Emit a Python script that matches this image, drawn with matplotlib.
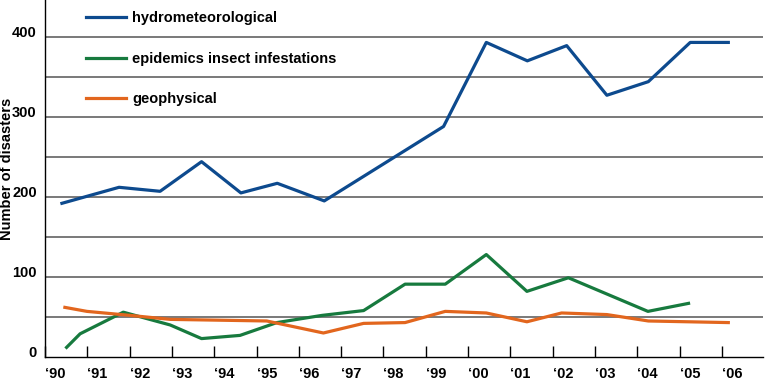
import matplotlib.pyplot as plt
from matplotlib.lines import Line2D

plt.rcParams['font.family'] = ['Liberation Sans', 'DejaVu Sans']

# data (x in fractional years, since points sit between year ticks)
hydro_x = [1990.40, 1991.75, 1992.72, 1993.70, 1994.63, 1995.49, 1996.60, 1999.42,
           2000.43, 2001.40, 2002.33, 2003.28, 2004.26, 2005.25, 2006.15]
hydro_y = [192, 212, 207, 244, 205, 217, 195, 288, 393, 370, 389, 327, 344, 393, 393]

epi_x = [1990.51, 1990.83, 1991.85, 1992.96, 1993.70, 1994.61, 1995.48, 1996.55, 1997.53,
         1998.51, 1999.46, 2000.43, 2001.39, 2002.37, 2004.25, 2005.21]
epi_y = [12, 29, 56, 40, 23, 27, 43, 52, 58, 91, 91, 128, 82, 99, 57, 67]

geo_x = [1990.47, 1990.99, 1992.01, 1992.96, 1995.24, 1996.58, 1997.53, 1998.51, 1999.46,
         2000.43, 2001.39, 2002.21, 2003.28, 2004.26, 2006.15]
geo_y = [62, 57, 52, 47, 45, 30, 42, 43, 57, 55, 44, 55, 53, 45, 43]

years = list(range(1990, 2007))
year_labels = ["\u2018" + str(y)[2:] for y in years]

names = ["hydrometeorological", "epidemics insect infestations", "geophysical"]
colors = ["#0d4a8e", "#177a3e", "#e2661e"]

fig = plt.figure(figsize=(7.68, 3.9), dpi=100)
ax = fig.add_axes([45 / 768, 33 / 390, 718 / 768, 357 / 390])

for yv in range(50, 450, 50):
    ax.axhline(yv, color="#555555", lw=1.1, zorder=1)

ax.plot(hydro_x, hydro_y, color=colors[0], lw=2.3, zorder=3)
ax.plot(epi_x, epi_y, color=colors[1], lw=2.3, zorder=3)
ax.plot(geo_x, geo_y, color=colors[2], lw=2.3, zorder=3)

ax.set_xlim(1990, 2006.97)
ax.set_ylim(0, 446)

ax.set_xticks(years)
ax.set_xticklabels(year_labels, ha="left", fontsize=10.5, fontweight="bold")
ax.tick_params(axis="x", direction="in", length=8, width=1, pad=7)
ax.set_yticks([0, 100, 200, 300, 400])
ax.set_yticklabels(["0", "100", "200", "300", "400"], fontsize=10.5, fontweight="bold",
                   va="baseline")
ax.tick_params(axis="y", length=0, pad=6)

for s in ["top", "right"]:
    ax.spines[s].set_visible(False)
ax.spines["left"].set_linewidth(1)
ax.spines["bottom"].set_linewidth(1)

fig.text(7 / 768, 1 - 169 / 390, "Number of disasters", rotation=90, ha="center", va="center",
         fontsize=10.5, fontweight="bold")

handles = [Line2D([], [], color=c, lw=2.3) for c in colors]
leg = ax.legend(handles, names, loc="upper left", bbox_to_anchor=(41 / 718, 1 - 11 / 357),
                frameon=False, handlelength=2.74, handletextpad=0.42, labelspacing=1.83,
                borderaxespad=0, borderpad=0,
                prop={"size": 10.5, "weight": "bold"})

fig.savefig("out.png", dpi=100)
